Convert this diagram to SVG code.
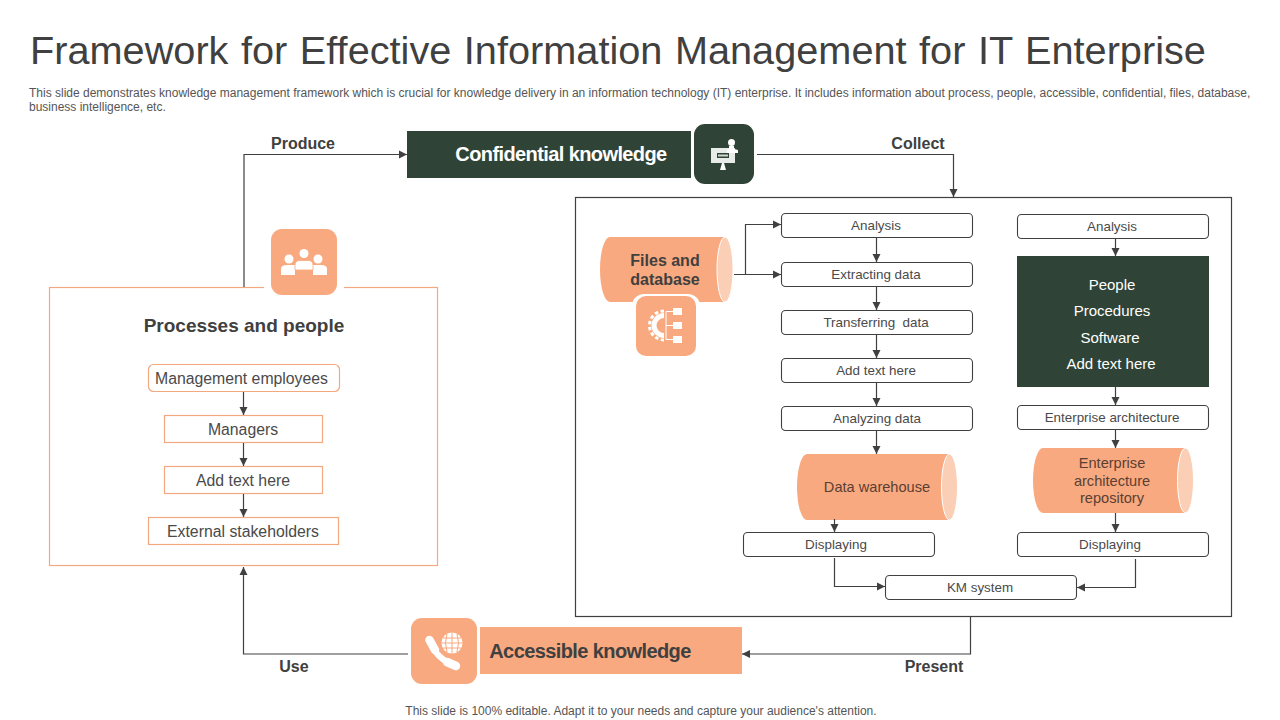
<svg xmlns="http://www.w3.org/2000/svg" width="1280" height="720" viewBox="0 0 1280 720">
<style>
text{font-family:"Liberation Sans",Arial,sans-serif;fill:#404040;text-anchor:middle}
.t{font-size:13.4px;fill:#4a4a4a}
.b{font-size:14.6px;fill:#5a4034}
.s{font-size:15.8px;fill:#4a4a4a}
.l{font-size:16px;font-weight:bold}
.d{font-size:12px;text-anchor:start;fill:#555}
.w{fill:#fff}
.box{fill:#fff;stroke:#404040;stroke-width:1.1}
.or{fill:#fff;stroke:#f4a880;stroke-width:1.2}
.c{fill:none;stroke:#404040;stroke-width:1.2;marker-end:url(#a)}
.p{fill:#f9a97f}
.g{fill:#2f4436}
.e{fill:#fbcfb5;stroke:#fff;stroke-width:1}
.i{fill:#fff}
</style>
<defs>
<marker id="a" markerUnits="userSpaceOnUse" markerWidth="9" markerHeight="9" refX="8" refY="4.5" orient="auto"><path d="M0 0.500L8 4.500L0 8.500Z" fill="#404040"/></marker>
</defs>
<rect width="1280" height="720" fill="#fff"/>
<text x="30" y="64" style="font-size:39.7px;text-anchor:start;word-spacing:1.5px">Framework for Effective Information Management for IT Enterprise</text>
<text class="d" x="29" y="97">This slide demonstrates knowledge management framework which is crucial for knowledge delivery in an information technology (IT) enterprise. It includes information about process, people, accessible, confidential, files, database,</text>
<text class="d" x="29" y="111">business intelligence, etc.</text>
<text x="641" y="715" style="font-size:12px;fill:#555">This slide is 100% editable. Adapt it to your needs and capture your audience's attention.</text>

<g id="confidential-knowledge">
<rect class="g" x="407" y="131" width="284" height="47"/>
<text class="w" x="561" y="161" style="font-size:20px;font-weight:bold;letter-spacing:-.6px">Confidential knowledge</text>
<rect class="g" x="694" y="124" width="60" height="60" rx="11"/>
<g class="i"><rect x="711" y="148" width="24" height="15" fill="#e8ece8"/><rect x="717" y="153" width="12" height="5" fill="#2f4436"/><rect x="718" y="154.500" width="10" height="2" fill="#cfd8cf"/><circle cx="731.500" cy="142.500" r="3.500"/><path d="M729 146H734V149L738 150V153H727V150L729 149Z"/><path d="M722 163H724L726 170H720Z"/></g>
</g>

<g id="processes-and-people">
<rect class="or" x="49.500" y="287.500" width="388" height="278"/>
<rect x="264" y="280" width="80" height="16" fill="#fff"/>
<rect class="p" x="271" y="229" width="66" height="66" rx="11"/>
<g class="i"><circle cx="289" cy="259" r="4.500"/><circle cx="304" cy="253.500" r="4.500"/><circle cx="318" cy="259" r="4.500"/><path d="M281 275V269Q281 265 287 265H295V275Z"/><path d="M313 275V265H321Q327 265 327 269V275Z"/><path d="M295 270V265Q295 260.500 300 260.500H308Q313 260.500 313 265V270Z" stroke="#f9a97f" stroke-width=".8"/></g>
<text x="244" y="332" style="font-size:19px;font-weight:bold">Processes and people</text>
<g id="management-employees"><rect class="or" x="148.500" y="364.500" width="191" height="27" rx="5"/><text class="s" x="241.500" y="384">Management employees</text></g>
<g id="managers"><rect class="or" x="164.500" y="415.500" width="158" height="27"/><text class="s" x="243" y="435">Managers</text></g>
<g id="add-text-left"><rect class="or" x="164.500" y="466.500" width="158" height="27"/><text class="s" x="243" y="486">Add text here</text></g>
<g id="external-stakeholders"><rect class="or" x="148.500" y="517.500" width="190" height="27"/><text class="s" x="243" y="537">External stakeholders</text></g>
</g>

<g id="km-frame"><rect x="575.500" y="197.500" width="656" height="419" fill="none" stroke="#404040" stroke-width="1.2"/></g>

<g id="files-and-database">
<path class="p" d="M610 237H725V302H610A10 32.500 0 0 1 610 237Z"/>
<ellipse class="e" cx="725" cy="269.500" rx="8" ry="32.500"/>
<text class="l" x="665" y="266">Files and</text>
<text class="l" x="665" y="285">database</text>
<rect x="632" y="294" width="68" height="66" rx="12" fill="#fff"/>
<rect class="p" x="636" y="296" width="60" height="60" rx="10"/>
<g class="i"><path d="M664 315.500A10 10 0 0 0 664 335.500" fill="none" stroke="#fff" stroke-width="5"/><path d="M664 311A14.500 14.500 0 0 0 664 340" fill="none" stroke="#fff" stroke-width="3" stroke-dasharray="3.500 2.500"/><rect x="673" y="308" width="9" height="7"/><rect x="673" y="322" width="9" height="7"/><rect x="673" y="336" width="9" height="7"/><path d="M666 311.500H673M666 325.500H673M666 339.500H673M666 311.500V339.500" fill="none" stroke="#fff" stroke-width="1"/></g>
</g>

<g id="n-analysis-1"><rect class="box" x="781.500" y="213.500" width="191" height="24" rx="4"/><text class="t" x="876" y="230">Analysis</text></g>
<g id="n-extracting"><rect class="box" x="781.500" y="262.500" width="191" height="24" rx="4"/><text class="t" x="876" y="279">Extracting data</text></g>
<g id="n-transferring"><rect class="box" x="781.500" y="310.500" width="191" height="24" rx="4"/><text class="t" x="876" y="327" xml:space="preserve">Transferring  data</text></g>
<g id="n-add-text"><rect class="box" x="781.500" y="358.500" width="191" height="24" rx="4"/><text class="t" x="876" y="375">Add text here</text></g>
<g id="n-analyzing"><rect class="box" x="781.500" y="406.500" width="191" height="24" rx="4"/><text class="t" x="877" y="423">Analyzing data</text></g>

<g id="data-warehouse">
<path class="p" d="M807 454H950V520H807A10 33 0 0 1 807 454Z"/>
<ellipse class="e" cx="949.500" cy="487" rx="8" ry="33"/>
<text class="b" x="877" y="492">Data warehouse</text>
</g>
<g id="n-displaying-1"><rect class="box" x="743.500" y="532.500" width="191" height="24" rx="4"/><text class="t" x="836" y="549">Displaying</text></g>
<g id="n-km-system"><rect class="box" x="885.500" y="575.500" width="191" height="24" rx="4"/><text class="t" x="980" y="592">KM system</text></g>

<g id="n-analysis-2"><rect class="box" x="1017.500" y="214.500" width="191" height="24" rx="4"/><text class="t" x="1112" y="231">Analysis</text></g>
<g id="people-block">
<rect class="g" x="1017" y="256" width="192" height="131"/>
<text class="w" x="1112" y="290" style="font-size:15px">People</text>
<text class="w" x="1112" y="316" style="font-size:15px">Procedures</text>
<text class="w" x="1110" y="343" style="font-size:15px">Software</text>
<text class="w" x="1111" y="369" style="font-size:15px">Add text here</text>
</g>
<g id="n-enterprise-architecture"><rect class="box" x="1017.500" y="405.500" width="191" height="24" rx="4"/><text class="t" x="1112" y="422">Enterprise architecture</text></g>
<g id="repository">
<path class="p" d="M1043 448H1186V513H1043A10 32.500 0 0 1 1043 448Z"/>
<ellipse class="e" cx="1185.500" cy="480.500" rx="8" ry="32.500"/>
<text class="b" x="1112" y="468">Enterprise</text>
<text class="b" x="1112" y="486">architecture</text>
<text class="b" x="1112" y="503">repository</text>
</g>
<g id="n-displaying-2"><rect class="box" x="1017.500" y="532.500" width="191" height="24" rx="4"/><text class="t" x="1110" y="549">Displaying</text></g>

<g id="accessible-knowledge">
<rect class="p" x="480" y="627" width="262" height="47"/>
<text x="590" y="658" style="font-size:20px;font-weight:bold;letter-spacing:-.6px">Accessible knowledge</text>
<rect class="p" x="411" y="618" width="66" height="66" rx="11"/>
<path d="M430.500 641C433 652 443 662 455 665" fill="none" stroke="#fff" stroke-width="6" stroke-linecap="round"/>
<path d="M429.500 640L435 650M447 662L456 666" fill="none" stroke="#fff" stroke-width="8.500" stroke-linecap="round"/>
<circle cx="452" cy="643" r="10.500" fill="#fff"/>
<path d="M441.500 643H462.500M443 638H461M443 648H461M452 632.500V653.500M447 634Q444 643 447 652M457 634Q460 643 457 652" fill="none" stroke="#f9a97f" stroke-width="1"/>
</g>

<g id="connectors">
<path class="c" d="M244 287V154.500H407"/>
<path class="c" d="M757 154.500H953.500V197"/>
<path class="c" d="M970.500 617V654H742"/>
<path class="c" d="M408 654H243.500V567"/>
<path class="c" d="M243.500 392V415"/>
<path class="c" d="M243.500 443V466"/>
<path class="c" d="M243.500 494V517"/>
<path class="c" d="M734 274.500H781"/>
<path class="c" d="M745.500 274.500V224.500H781"/>
<path class="c" d="M876.500 238V262"/>
<path class="c" d="M876.500 287V310"/>
<path class="c" d="M876.500 335V358"/>
<path class="c" d="M876.500 383V406"/>
<path class="c" d="M876.500 431V454"/>
<path class="c" d="M834.500 519V532"/>
<path class="c" d="M834.500 558V586.500H885"/>
<path class="c" d="M1135.500 559V587.500H1077"/>
<path class="c" d="M1115.500 239V256"/>
<path class="c" d="M1115.500 387V405"/>
<path class="c" d="M1115.500 430V448"/>
<path class="c" d="M1115.500 513V532"/>
</g>

<text class="l" x="303" y="149">Produce</text>
<text class="l" x="918" y="149">Collect</text>
<text class="l" x="294" y="672">Use</text>
<text class="l" x="934" y="672">Present</text>
</svg>
